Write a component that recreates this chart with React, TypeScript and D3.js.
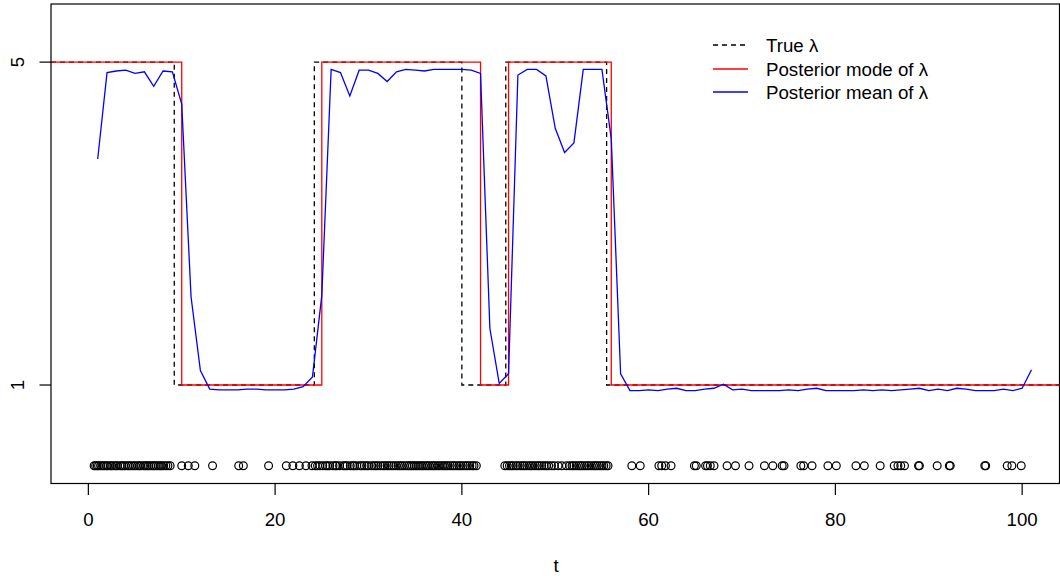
import React from "react";
import * as d3 from "d3";

// ---- data ----
const tickLabelsX = [0, 20, 40, 60, 80, 100];
const tickLabelsY = [1, 5];

// true lambda: change points and levels
const trueChange = [9.2, 24.2, 40.0, 44.7, 55.5];
const trueLevels = [5, 1, 5, 1, 5, 1];

// posterior mode: change points and levels
const modeChange = [10, 25, 42, 45, 56];
const modeLevels = [5, 1, 5, 1, 5, 1];

// posterior mean at t = 1..101
const meanValues = [
  3.8, 4.87, 4.89, 4.9, 4.86, 4.88, 4.7, 4.89, 4.88, 4.48,
  2.09, 1.18, 0.95, 0.94, 0.94, 0.94, 0.95, 0.95, 0.94, 0.94,
  0.94, 0.95, 0.98, 1.1, 2.11, 4.91, 4.87, 4.58, 4.9, 4.9,
  4.86, 4.76, 4.88, 4.91, 4.9, 4.89, 4.91, 4.91, 4.91, 4.91,
  4.9, 4.86, 1.7, 1.02, 1.14, 4.84, 4.91, 4.91, 4.83, 4.18,
  3.88, 4.0, 4.91, 4.91, 4.91, 4.05, 1.14, 0.93, 0.93, 0.94,
  0.93, 0.95, 0.96, 0.93, 0.93, 0.95, 0.96, 1.01, 0.94, 0.95,
  0.93, 0.93, 0.93, 0.93, 0.94, 0.93, 0.95, 0.96, 0.93, 0.93,
  0.93, 0.93, 0.94, 0.93, 0.94, 0.93, 0.94, 0.95, 0.96, 0.93,
  0.95, 0.93, 0.96, 0.95, 0.93, 0.93, 0.93, 0.95, 0.93, 0.96,
  1.19,
];

// observed event times (plotted at y = 0)
const eventTimes = [
  0.62, 0.78, 0.95, 1.1, 1.31, 1.52, 1.7, 1.93, 2.08, 2.35, 2.51, 2.74, 2.96, 3.12,
  3.4, 3.58, 3.77, 3.95, 4.21, 4.38, 4.6, 4.83, 5.02, 5.25, 5.44, 5.61, 5.9, 6.07,
  6.28, 6.45, 6.66, 6.88, 7.05, 7.26, 7.49, 7.68, 7.85, 8.07, 8.3, 8.52, 8.76,
  10.0, 10.7, 11.4, 13.3, 16.1, 16.6, 19.3, 21.2, 21.9, 22.6, 23.3,
  23.95, 24.3, 24.55, 24.8, 25.1, 25.4, 25.6, 25.85, 26.2, 26.45, 26.6, 26.9, 27.3,
  27.5, 27.7, 28.05, 28.3, 28.5, 28.75, 29.1, 29.3, 29.55, 29.8, 30.0, 30.35, 30.6,
  30.8, 31.0, 31.3, 31.55, 31.75, 32.0, 32.2, 32.45, 32.7, 32.95, 33.2, 33.4, 33.6,
  33.85, 34.1, 34.3, 34.5, 34.7, 34.9, 35.1, 35.3, 35.5, 35.7, 35.9, 36.15, 36.35,
  36.55, 36.8, 37.0, 37.2, 37.45, 37.65, 37.9, 38.1, 38.3, 38.5, 38.75, 39.0, 39.2,
  39.45, 39.7, 39.9, 40.15, 40.4, 40.6, 40.85, 41.1, 41.3, 41.55,
  44.6, 44.85, 45.1, 45.3, 45.5, 45.8, 46.0, 46.25, 46.5, 46.7, 46.95, 47.2, 47.4,
  47.6, 47.85, 48.1, 48.3, 48.55, 48.8, 49.05, 49.3, 49.6, 49.9, 50.3, 50.7, 51.2,
  51.55, 51.8, 52.0, 52.25, 52.5, 52.7, 52.9, 53.15, 53.4, 53.6, 53.85, 54.1, 54.3,
  54.5, 54.75, 55.0, 55.2, 55.45, 55.65,
  58.2, 59.1, 61.1, 61.4, 61.8, 62.4, 64.9, 65.1, 66.1, 66.3, 66.6, 67.0, 68.4, 69.3,
  70.75, 72.4, 73.3, 74.3, 74.5, 76.3, 76.6, 77.5, 79.2, 80.1, 82.2, 83.1, 84.8, 86.3,
  86.7, 87.0, 87.4, 88.9, 89.0, 90.9, 92.2, 92.3, 96.0, 96.1, 98.4, 98.9, 99.9,
];

const legendLabels = ["True \u03bb", "Posterior mode of \u03bb", "Posterior mean of \u03bb"];

// ---- layout ----
const W = 1060;
const H = 576;
const left = 51;
const right = 1059.5;
const top = 4;
const bottom = 483.5;
const FONT = "'Liberation Sans', Arial, Helvetica, sans-serif";
const FS = 18.7;

const xDomain: [number, number] = [-4, 104];
const yDomain: [number, number] = [-0.22, 5.72];

function stepPoints(changes: number[], levels: number[]) {
  const pts: [number, number][] = [[xDomain[0], levels[0]]];
  changes.forEach((c, i) => pts.push([c, levels[i + 1]]));
  pts.push([xDomain[1], levels[levels.length - 1]]);
  return pts;
}

export default function App() {
  const x = d3.scaleLinear().domain(xDomain).range([left, right]);
  const y = d3.scaleLinear().domain(yDomain).range([bottom, top]);

  const step = d3
    .line<[number, number]>()
    .x((d) => x(d[0]))
    .y((d) => y(d[1]))
    .curve(d3.curveStepAfter);

  const meanLine = d3
    .line<number>()
    .x((_, i) => x(i + 1))
    .y((d) => y(d));

  const truePath = step(stepPoints(trueChange, trueLevels)) || "";
  const modePath = step(stepPoints(modeChange, modeLevels)) || "";
  const meanPath = meanLine(meanValues) || "";

  const legendX0 = 713;
  const legendX1 = 748;
  const legendTextX = 766;
  const legendY = [45, 69, 92];
  const legendStyles = [
    { stroke: "#000", dash: "5,4" },
    { stroke: "#ff0000", dash: undefined },
    { stroke: "#0000ff", dash: undefined },
  ];

  return (
    <svg
      width={W}
      height={H}
      style={{ position: "absolute", left: 0, top: 0, background: "#fff" }}
      fontFamily={FONT}
    >
      <rect x={0} y={0} width={W} height={H} fill="#fff" />
      <defs>
        <clipPath id="plotclip">
          <rect x={left} y={top} width={right - left} height={bottom - top} />
        </clipPath>
      </defs>

      <g clipPath="url(#plotclip)">
        <path d={truePath} fill="none" stroke="#000" strokeWidth={1.3} strokeDasharray="5,4" />
        <path d={modePath} fill="none" stroke="#ff0000" strokeWidth={1.3} />
        <path d={meanPath} fill="none" stroke="#0000ff" strokeWidth={1.3} />
        {eventTimes.map((t, i) => (
          <circle key={i} cx={x(t)} cy={y(0)} r={3.9} fill="none" stroke="#000" strokeWidth={1.2} />
        ))}
      </g>

      {/* box */}
      <rect
        x={left}
        y={top}
        width={right - left}
        height={bottom - top}
        fill="none"
        stroke="#000"
        strokeWidth={1.2}
      />

      {/* x axis */}
      <g>
        {tickLabelsX.map((t) => (
          <g key={t}>
            <line x1={x(t)} x2={x(t)} y1={bottom} y2={bottom + 11.5} stroke="#000" strokeWidth={1.2} />
            <text
              x={x(t)}
              y={519}
              textAnchor="middle"
              dominantBaseline="central"
              fontSize={FS}
              fill="#000"
            >
              {t}
            </text>
          </g>
        ))}
        <text x={556} y={565} textAnchor="middle" dominantBaseline="central" fontSize={FS} fill="#000">
          t
        </text>
      </g>

      {/* y axis */}
      <g>
        {tickLabelsY.map((v) => (
          <g key={v}>
            <line x1={left - 11.5} x2={left} y1={y(v)} y2={y(v)} stroke="#000" strokeWidth={1.2} />
            <text
              transform={`translate(17.5,${y(v)}) rotate(-90)`}
              textAnchor="middle"
              dominantBaseline="central"
              fontSize={FS}
              fill="#000"
            >
              {v}
            </text>
          </g>
        ))}
      </g>

      {/* legend */}
      <g>
        {legendLabels.map((lab, i) => (
          <g key={lab}>
            <line
              x1={legendX0}
              x2={legendX1}
              y1={legendY[i]}
              y2={legendY[i]}
              stroke={legendStyles[i].stroke}
              strokeWidth={1.3}
              strokeDasharray={legendStyles[i].dash}
            />
            <text x={legendTextX} y={legendY[i]} dominantBaseline="central" fontSize={FS} fill="#000">
              {lab}
            </text>
          </g>
        ))}
      </g>
    </svg>
  );
}
